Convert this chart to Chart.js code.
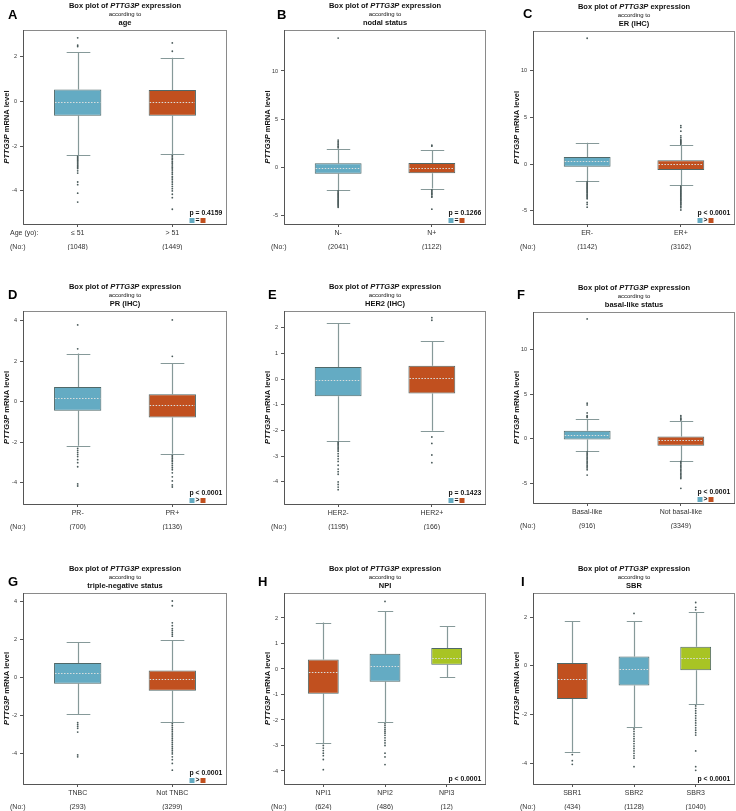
<!DOCTYPE html>
<html>
<head>
<meta charset="utf-8">
<script src="https://cdn.jsdelivr.net/npm/chart.js@4.4.0/dist/chart.umd.min.js"></script>
<style>
  html, body { margin: 0; padding: 0; background: #fff; }
  #wrap { position: relative; width: 736px; height: 811px; overflow: hidden; }
  #wrap canvas { position: absolute; }
</style>
</head>
<body>
<div id="wrap"></div>
<script>
// each box: [lower whisker, Q1, median, Q3, upper whisker]
const ageGroups = ["≤ 51", "> 51"];
const ageCounts = [1048, 1449];
const ageBoxes = [[-2.39, -0.64, 0.00, 0.54, 2.22], [-2.36, -0.64, -0.02, 0.51, 1.96]];
const ageOutliers = [
  [2.85, 2.52, 2.46, -2.45, -2.5, -2.55, -2.6, -2.65, -2.7, -2.75, -2.8, -2.85, -2.9, -2.95, -3.0, -3.1, -3.2, -3.6, -3.72, -4.1, -4.5],
  [2.62, 2.25, -2.42, -2.48, -2.55, -2.6, -2.68, -2.75, -2.8, -2.88, -2.95, -3.02, -3.1, -3.18, -3.25, -3.35, -3.42, -3.5, -3.6, -3.7, -3.8, -3.9, -4.0, -4.15, -4.3, -4.82]
];
const ageTicks = [-4, -2, 0, 2];

const nodalGroups = ["N-", "N+"];
const nodalCounts = [2041, 1122];
const nodalBoxes = [[-2.34, -0.62, 0.00, 0.45, 1.93], [-2.17, -0.59, 0.00, 0.48, 1.83]];
const nodalOutliers = [
  [13.4, 2.05, 2.15, 2.25, 2.4, 2.55, 2.7, 2.85, -2.4, -2.5, -2.6, -2.7, -2.8, -2.9, -3.0, -3.1, -3.2, -3.3, -3.4, -3.5, -3.6, -3.7, -3.8, -3.9, -4.0, -4.1],
  [2.22, 2.32, -2.3, -2.4, -2.5, -2.6, -2.7, -2.8, -2.95, -3.05, -4.3]
];
const nodalTicks = [-5, 0, 5, 10];

const erGroups = ["ER-", "ER+"];
const erCounts = [1142, 3162];
const erBoxes = [[-1.81, -0.28, 0.28, 0.74, 2.27], [-2.27, -0.64, -0.04, 0.39, 1.99]];
const erOutliers = [
  [13.4, -1.9, -2.0, -2.1, -2.2, -2.3, -2.4, -2.5, -2.6, -2.7, -2.8, -2.9, -3.0, -3.1, -3.2, -3.3, -3.4, -3.5, -3.6, -3.7, -4.1, -4.3, -4.6],
  [2.1, 2.2, 2.3, 2.4, 2.5, 2.6, 2.8, 3.0, 3.5, 3.9, 4.1, -2.35, -2.45, -2.55, -2.65, -2.75, -2.85, -2.95, -3.05, -3.15, -3.25, -3.35, -3.45, -3.55, -3.65, -3.75, -3.85, -3.95, -4.05, -4.15, -4.25, -4.35, -4.5, -4.65, -4.9]
];
const erTicks = [-5, 0, 5, 10];

const prGroups = ["PR-", "PR+"];
const prCounts = [700, 1136];
const prBoxes = [[-2.16, -0.43, 0.18, 0.74, 2.39], [-2.56, -0.77, -0.13, 0.38, 1.90]];
const prOutliers = [
  [3.8, 2.62, -2.3, -2.4, -2.5, -2.6, -2.7, -2.85, -3.0, -3.2, -4.05, -4.15],
  [4.05, 2.25, -2.65, -2.72, -2.8, -2.88, -2.95, -3.05, -3.15, -3.25, -3.35, -3.5, -3.7, -3.9, -4.1, -4.2]
];
const prTicks = [-4, -2, 0, 2, 4];

const her2Groups = ["HER2-", "HER2+"];
const her2Counts = [1195, 166];
const her2Boxes = [[-2.40, -0.66, -0.04, 0.48, 2.19], [-2.01, -0.55, 0.05, 0.53, 1.49]];
const her2Outliers = [
  [-2.45, -2.5, -2.55, -2.6, -2.65, -2.7, -2.75, -2.8, -2.9, -3.0, -3.1, -3.2, -3.35, -3.5, -3.6, -3.7, -4.0, -4.1, -4.2, -4.3],
  [2.3, 2.4, -2.25, -2.5, -2.95, -3.25]
];
const her2Ticks = [-4, -3, -2, -1, 0, 1, 2];

const basalGroups = ["Basal-like", "Not basal-like"];
const basalCounts = [916, 3349];
const basalBoxes = [[-1.43, -0.08, 0.38, 0.90, 2.22], [-2.48, -0.79, -0.11, 0.26, 1.95]];
const basalOutliers = [
  [13.5, 4.0, 3.8, 2.9, 2.6, 2.5, 2.4, -1.5, -1.65, -1.8, -1.95, -2.1, -2.25, -2.4, -2.55, -2.7, -2.85, -3.0, -3.15, -3.3, -3.5, -4.1],
  [2.1, 2.2, 2.3, 2.45, 2.6, -2.55, -2.7, -2.85, -3.0, -3.15, -3.3, -3.45, -3.6, -3.75, -3.9, -4.05, -4.2, -4.35, -4.5, -5.6]
];
const basalTicks = [-5, 0, 5, 10];

const tnGroups = ["TNBC", "Not TNBC"];
const tnCounts = [293, 3299];
const tnBoxes = [[-1.92, -0.30, 0.28, 0.79, 1.87], [-2.33, -0.67, -0.07, 0.39, 1.99]];
const tnOutliers = [
  [-2.35, -2.45, -2.55, -2.65, -2.85, -4.05, -4.15],
  [4.05, 3.8, 2.9, 2.75, 2.6, 2.5, 2.4, 2.3, 2.2, -2.4, -2.5, -2.6, -2.7, -2.8, -2.9, -3.0, -3.1, -3.2, -3.3, -3.4, -3.5, -3.6, -3.7, -3.8, -3.9, -4.0, -4.15, -4.3, -4.5, -4.85]
];
const tnTicks = [-4, -2, 0, 2, 4];

const npiGroups = ["NPI1", "NPI2", "NPI3"];
const npiCounts = [624, 486, 12];
const npiBoxes = [[-2.90, -0.97, -0.12, 0.37, 1.82], [-2.09, -0.50, 0.13, 0.60, 2.27], [-0.31, 0.17, 0.44, 0.82, 1.67]];
const npiOutliers = [
  [-3.0, -3.1, -3.2, -3.3, -3.4, -3.55, -3.95],
  [2.65, -2.15, -2.22, -2.3, -2.38, -2.45, -2.52, -2.6, -2.7, -2.8, -2.9, -3.0, -3.3, -3.45, -3.75],
  []
];
const npiTicks = [-4, -3, -2, -1, 0, 1, 2];

const sbrGroups = ["SBR1", "SBR2", "SBR3"];
const sbrCounts = [434, 1128, 1040];
const sbrBoxes = [[-3.53, -1.37, -0.56, 0.11, 1.84], [-2.53, -0.81, -0.15, 0.38, 1.82], [-1.58, -0.19, 0.32, 0.78, 2.21]];
const sbrOutliers = [
  [-3.65, -3.9, -4.05],
  [2.15, -2.6, -2.7, -2.8, -2.9, -3.0, -3.1, -3.2, -3.3, -3.4, -3.5, -3.6, -3.7, -3.8, -4.15],
  [2.6, 2.4, 2.3, -1.65, -1.75, -1.85, -1.95, -2.05, -2.15, -2.25, -2.35, -2.45, -2.55, -2.65, -2.75, -2.85, -3.5, -4.15, -4.3]
];
const sbrTicks = [-4, -2, 0, 2];

const pValues = ["p = 0.4159", "p = 0.1266", "p < 0.0001", "p < 0.0001", "p = 0.1423", "p < 0.0001", "p < 0.0001", "p < 0.0001", "p < 0.0001"];
const pSigns = ["=", "=", ">", ">", "=", ">", ">", null, null];

const BLUE = '#64abc3', ORANGE = '#c1501f', GREEN = '#a8c424';
const FONT = "'Liberation Sans', Arial, Helvetica, sans-serif";

// canvas = [x, y, w, h], plot = [left, top, right, bottom] in page pixels
const panels = [
  { letter: 'A', sub: 'age', groups: ageGroups, counts: ageCounts, boxes: ageBoxes, outliers: ageOutliers, ticks: ageTicks, ymin: -5.48, ymax: 3.2,
    colors: [BLUE, ORANGE], canvas: [0, 0, 245, 265], plot: [23, 30, 227, 224], letterPos: [8, 15], xName: 'Age (yo):' },
  { letter: 'B', sub: 'nodal status', groups: nodalGroups, counts: nodalCounts, boxes: nodalBoxes, outliers: nodalOutliers, ticks: nodalTicks, ymin: -5.83, ymax: 14.24,
    colors: [BLUE, ORANGE], canvas: [245, 0, 245, 265], plot: [284, 30, 486, 224], letterPos: [277, 15] },
  { letter: 'C', sub: 'ER (IHC)', groups: erGroups, counts: erCounts, boxes: erBoxes, outliers: erOutliers, ticks: erTicks, ymin: -6.39, ymax: 14.17,
    colors: [BLUE, ORANGE], canvas: [490, 0, 246, 265], plot: [533, 31, 735, 224], letterPos: [523, 14] },
  { letter: 'D', sub: 'PR (IHC)', groups: prGroups, counts: prCounts, boxes: prBoxes, outliers: prOutliers, ticks: prTicks, ymin: -5.04, ymax: 4.49,
    colors: [BLUE, ORANGE], canvas: [0, 265, 245, 275], plot: [23, 311, 227, 504], letterPos: [8, 295] },
  { letter: 'E', sub: 'HER2 (IHC)', groups: her2Groups, counts: her2Counts, boxes: her2Boxes, outliers: her2Outliers, ticks: her2Ticks, ymin: -4.86, ymax: 2.66,
    colors: [BLUE, ORANGE], canvas: [245, 265, 245, 275], plot: [284, 311, 486, 504], letterPos: [268, 295] },
  { letter: 'F', sub: 'basal-like status', groups: basalGroups, counts: basalCounts, boxes: basalBoxes, outliers: basalOutliers, ticks: basalTicks, ymin: -7.25, ymax: 14.28,
    colors: [BLUE, ORANGE], canvas: [490, 265, 246, 275], plot: [533, 312, 735, 503], letterPos: [517, 295] },
  { letter: 'G', sub: 'triple-negative status', groups: tnGroups, counts: tnCounts, boxes: tnBoxes, outliers: tnOutliers, ticks: tnTicks, ymin: -5.58, ymax: 4.47,
    colors: [BLUE, ORANGE], canvas: [0, 540, 245, 271], plot: [23, 593, 227, 784], letterPos: [8, 582] },
  { letter: 'H', sub: 'NPI', groups: npiGroups, counts: npiCounts, boxes: npiBoxes, outliers: npiOutliers, ticks: npiTicks, ymin: -4.51, ymax: 2.98,
    colors: [ORANGE, BLUE, GREEN], canvas: [245, 540, 245, 271], plot: [284, 593, 486, 784], letterPos: [258, 582] },
  { letter: 'I', sub: 'SBR', groups: sbrGroups, counts: sbrCounts, boxes: sbrBoxes, outliers: sbrOutliers, ticks: sbrTicks, ymin: -4.86, ymax: 2.99,
    colors: [ORANGE, BLUE, GREEN], canvas: [490, 540, 246, 271], plot: [533, 593, 735, 784], letterPos: [521, 582] }
];

const Y_W = 20, X_H = 26;

function drawParts(ctx, parts, x, y) {
  // parts: [text, font]; centred on x
  let total = 0;
  parts.forEach(p => { ctx.font = p[1]; total += ctx.measureText(p[0]).width; });
  let cx = x - total / 2;
  parts.forEach(p => {
    ctx.font = p[1];
    ctx.fillText(p[0], cx, y);
    cx += ctx.measureText(p[0]).width;
  });
}

function boxPlugin(panel, idx) {
  return {
    id: 'box' + idx,
    beforeDatasetsDraw(chart) {
      const ctx = chart.ctx, xs = chart.scales.x, ys = chart.scales.y;
      ctx.save();
      ctx.strokeStyle = '#869999';
      ctx.lineWidth = 1.2;
      panel.boxes.forEach((b, i) => {
        const cx = Math.round(xs.getPixelForValue(i + 1)) + 0.5;
        const half = xs.getPixelForValue(i + 1.125) - xs.getPixelForValue(i + 1);
        const lo = ys.getPixelForValue(b[0]), q1 = ys.getPixelForValue(b[1]);
        const q3 = ys.getPixelForValue(b[3]), hi = ys.getPixelForValue(b[4]);
        ctx.beginPath();
        ctx.moveTo(cx, q1); ctx.lineTo(cx, lo);
        ctx.moveTo(cx, q3); ctx.lineTo(cx, hi);
        ctx.moveTo(cx - half, Math.round(lo) + 0.5); ctx.lineTo(cx + half, Math.round(lo) + 0.5);
        ctx.moveTo(cx - half, Math.round(hi) + 0.5); ctx.lineTo(cx + half, Math.round(hi) + 0.5);
        ctx.stroke();
      });
      ctx.restore();
    },
    afterDatasetsDraw(chart) {
      const ctx = chart.ctx, xs = chart.scales.x, ys = chart.scales.y;
      ctx.save();
      ctx.strokeStyle = '#d9dede';
      ctx.lineWidth = 1;
      ctx.setLineDash([1.5, 1.5]);
      panel.boxes.forEach((b, i) => {
        const l = xs.getPixelForValue(i + 0.75), r = xs.getPixelForValue(i + 1.25);
        const m = Math.round(ys.getPixelForValue(b[2])) + 0.5;
        ctx.beginPath();
        ctx.moveTo(l + 1, m); ctx.lineTo(r - 1, m);
        ctx.stroke();
      });
      ctx.restore();
    },
    afterDraw(chart) {
      const ctx = chart.ctx, a = chart.chartArea;
      const ox = panel.canvas[0], oy = panel.canvas[1];
      ctx.save();
      // frame
      ctx.lineWidth = 1;
      ctx.strokeStyle = '#8a8a8a';
      ctx.strokeRect(Math.round(a.left) + 0.5, Math.round(a.top) + 0.5, Math.round(a.right - a.left) - 1, Math.round(a.bottom - a.top));
      ctx.strokeStyle = '#555';
      ctx.beginPath();
      ctx.moveTo(Math.round(a.left) + 0.5, Math.round(a.top));
      ctx.lineTo(Math.round(a.left) + 0.5, Math.round(a.bottom) + 0.5);
      ctx.lineTo(Math.round(a.right), Math.round(a.bottom) + 0.5);
      ctx.stroke();

      const midX = (a.left + a.right) / 2;
      ctx.fillStyle = '#111';
      ctx.textBaseline = 'middle';
      // titles
      drawParts(ctx, [['Box plot of ', 'bold 7.5px ' + FONT], ['PTTG3P', 'italic bold 7.5px ' + FONT], [' expression', 'bold 7.5px ' + FONT]], midX, a.top - 24);
      ctx.font = '6px ' + FONT;
      ctx.textAlign = 'center';
      ctx.fillText('according to', midX, a.top - 15.5);
      ctx.font = 'bold 7.5px ' + FONT;
      ctx.fillText(panel.sub, midX, a.top - 7);
      // panel letter
      ctx.textAlign = 'left';
      ctx.font = 'bold 13px ' + FONT;
      ctx.fillStyle = '#000';
      ctx.fillText(panel.letter, panel.letterPos[0] - ox, panel.letterPos[1] - oy);
      // y axis title
      ctx.save();
      ctx.translate(a.left - 16.5, (a.top + a.bottom) / 2);
      ctx.rotate(-Math.PI / 2);
      ctx.fillStyle = '#111';
      drawParts(ctx, [['PTTG3P', 'italic bold 7.5px ' + FONT], [' mRNA level', 'bold 7.5px ' + FONT]], 0, 0);
      ctx.restore();
      // left labels under the axis
      ctx.textAlign = 'left';
      ctx.font = '7px ' + FONT;
      ctx.fillStyle = '#333';
      if (panel.xName) ctx.fillText(panel.xName, a.left - 13, a.bottom + 9);
      ctx.fillText('(No:)', a.left - 13, a.bottom + 23);
      // p-value and legend
      const px = a.right - 37.5;
      ctx.font = 'bold 6.8px ' + FONT;
      ctx.fillStyle = '#111';
      const sign = pSigns[idx];
      if (sign) {
        ctx.fillText(pValues[idx], px, a.bottom - 11);
        ctx.fillStyle = panel.colors[0];
        ctx.fillRect(px, a.bottom - 6, 5, 5);
        ctx.fillStyle = panel.colors[1];
        ctx.fillRect(px + 11, a.bottom - 6, 5, 5);
        ctx.fillStyle = '#111';
        ctx.textAlign = 'center';
        ctx.fillText(sign, px + 8, a.bottom - 3.5);
      } else {
        ctx.fillText(pValues[idx], px, a.bottom - 5);
      }
      ctx.restore();
    }
  };
}

const wrap = document.getElementById('wrap');
panels.forEach((panel, idx) => {
  const [cx, cy, cw, ch] = panel.canvas;
  const [L, T, R, B] = panel.plot;
  const cv = document.createElement('canvas');
  cv.width = cw; cv.height = ch;
  cv.style.left = cx + 'px'; cv.style.top = cy + 'px';
  cv.style.width = cw + 'px'; cv.style.height = ch + 'px';
  wrap.appendChild(cv);

  const n = panel.groups.length;
  const pad = n === 2 ? 0.578 : 0.637;
  const boxData = panel.boxes.map((b, i) => ({ x: i + 1, y: [b[1], b[3]] }));
  const outData = [];
  panel.outliers.forEach((list, i) => list.forEach(v => outData.push({ x: i + 1, y: v })));

  new Chart(cv, {
    type: 'bar',
    data: {
      datasets: [
        { type: 'bar', data: boxData, backgroundColor: panel.colors, borderColor: '#4f6868', borderWidth: 1,
          borderSkipped: false, barPercentage: 0.5, categoryPercentage: 1, grouped: false },
        { type: 'scatter', data: outData, pointRadius: 0.9, pointBackgroundColor: '#4a5a5a', pointBorderWidth: 0, showLine: false }
      ]
    },
    options: {
      responsive: false,
      animation: false,
      events: [],
      devicePixelRatio: 1,
      layout: { autoPadding: false, padding: { left: L - cx - Y_W, top: T - cy, right: cx + cw - R, bottom: cy + ch - B - X_H } },
      scales: {
        x: {
          type: 'linear', min: 1 - pad, max: n + pad, offset: false,
          grid: { display: true, drawOnChartArea: false, drawTicks: true, tickLength: 3, color: '#555', offset: false },
          border: { display: false },
          afterBuildTicks: s => { s.ticks = panel.groups.map((g, i) => ({ value: i + 1 })); },
          afterFit: s => { s.height = X_H; },
          ticks: {
            autoSkip: false, maxRotation: 0, padding: -1, color: '#333',
            font: { family: FONT, size: 7, lineHeight: 2 },
            callback: v => [panel.groups[v - 1], '(' + panel.counts[v - 1] + ')']
          }
        },
        y: {
          type: 'linear', min: panel.ymin, max: panel.ymax,
          grid: { display: true, drawOnChartArea: false, drawTicks: true, tickLength: 3, color: '#555' },
          border: { display: false },
          afterBuildTicks: s => { s.ticks = panel.ticks.map(v => ({ value: v })); },
          afterFit: s => { s.width = Y_W; },
          ticks: { padding: 3, color: '#333', font: { family: FONT, size: 5.5 }, callback: v => String(v) }
        }
      },
      plugins: { legend: { display: false }, tooltip: { enabled: false } }
    },
    plugins: [boxPlugin(panel, idx)]
  });
});
</script>
</body>
</html>
